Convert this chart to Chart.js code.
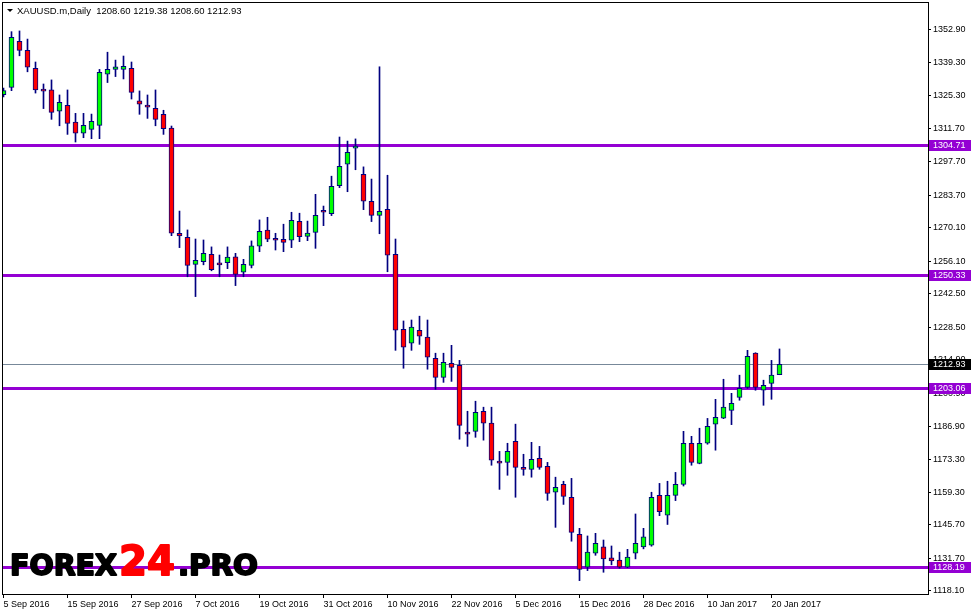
<!DOCTYPE html>
<html>
<head>
<meta charset="utf-8">
<title>XAUUSD.m Daily</title>
<script src="https://cdn.jsdelivr.net/npm/chart.js@4.4.1/dist/chart.umd.min.js"></script>
<style>
  html, body { margin: 0; padding: 0; background: #fff; }
  canvas { display: block; }
</style>
</head>
<body>
<canvas id="goldChart" width="971" height="615"></canvas>
<script>
// daily candles, 5 Sep 2016 .. 23 Jan 2017
const opens = [
  1325.8, 1328.9, 1348.2, 1344.4, 1336.9, 1327.7, 1327.8, 1318.9, 1321.4, 1314.3,
  1309.7, 1311.3, 1313.0, 1334.4, 1336.4, 1336.4, 1336.9, 1323.2, 1320.9, 1320.1,
  1317.6, 1311.8, 1267.8, 1266.1, 1254.8, 1255.9, 1259.0, 1254.8, 1255.5, 1257.9,
  1251.5, 1254.4, 1262.4, 1269.1, 1265.7, 1265.3, 1264.9, 1272.8, 1266.5, 1268.2,
  1277.4, 1276.0, 1287.7, 1296.7, 1303.4, 1292.5, 1281.2, 1275.3, 1277.8, 1259.0,
  1227.6, 1221.8, 1227.2, 1224.3, 1215.5, 1207.5, 1213.4, 1212.5, 1184.5, 1184.9,
  1193.3, 1188.3, 1172.4, 1171.9, 1180.7, 1169.8, 1169.0, 1173.6, 1170.2, 1159.4,
  1162.7, 1157.3, 1141.8, 1128.0, 1133.9, 1136.5, 1131.9, 1131.0, 1128.0, 1133.9,
  1136.5, 1137.2, 1158.1, 1149.8, 1158.1, 1162.7, 1179.9, 1171.5, 1179.9, 1187.9,
  1190.4, 1193.7, 1199.1, 1203.3, 1217.6, 1202.1, 1205.0, 1208.60
];
const highs = [
  1328.6, 1352.2, 1352.5, 1349.1, 1339.5, 1330.3, 1332.0, 1325.7, 1327.8, 1318.0,
  1318.0, 1317.7, 1336.4, 1343.6, 1340.3, 1342.0, 1339.5, 1327.4, 1325.7, 1327.8,
  1319.3, 1312.7, 1277.1, 1269.2, 1265.4, 1265.0, 1262.1, 1258.7, 1262.1, 1259.4,
  1256.9, 1264.6, 1273.4, 1274.5, 1267.8, 1271.6, 1276.6, 1276.2, 1272.9, 1284.1,
  1279.2, 1291.7, 1308.1, 1306.4, 1307.3, 1295.6, 1290.5, 1337.5, 1292.1, 1265.4,
  1231.1, 1231.5, 1233.1, 1231.5, 1217.6, 1217.6, 1220.9, 1214.6, 1193.3, 1197.5,
  1195.0, 1195.0, 1176.5, 1179.9, 1187.9, 1175.3, 1180.3, 1178.6, 1171.9, 1165.7,
  1164.0, 1165.2, 1144.3, 1141.1, 1142.2, 1139.4, 1136.9, 1134.3, 1135.5, 1150.3,
  1144.3, 1159.4, 1163.1, 1164.0, 1167.7, 1184.9, 1182.8, 1186.2, 1190.3, 1198.3,
  1206.7, 1200.8, 1208.4, 1218.8, 1217.8, 1206.3, 1214.6, 1219.38
];
const lows = [
  1324.9, 1327.5, 1342.1, 1335.4, 1326.5, 1320.0, 1315.5, 1312.8, 1309.2, 1306.0,
  1307.8, 1307.4, 1307.4, 1330.9, 1333.4, 1332.4, 1324.0, 1317.6, 1315.9, 1312.8,
  1309.2, 1266.8, 1261.8, 1249.6, 1241.3, 1254.6, 1252.1, 1249.6, 1253.0, 1245.9,
  1249.6, 1253.3, 1260.1, 1264.3, 1260.8, 1260.1, 1261.8, 1264.3, 1264.7, 1261.5,
  1271.0, 1275.2, 1286.9, 1285.2, 1294.4, 1277.7, 1272.7, 1267.6, 1251.7, 1218.8,
  1211.3, 1218.8, 1221.3, 1210.9, 1202.5, 1205.4, 1205.8, 1181.6, 1178.6, 1182.4,
  1181.2, 1170.7, 1160.6, 1166.5, 1157.3, 1166.5, 1165.7, 1169.0, 1156.0, 1144.7,
  1154.3, 1138.9, 1122.4, 1126.6, 1133.0, 1125.9, 1129.0, 1127.6, 1127.8, 1131.5,
  1135.7, 1136.8, 1149.6, 1145.9, 1155.9, 1162.0, 1170.7, 1171.3, 1179.5, 1177.0,
  1190.2, 1187.7, 1197.9, 1202.9, 1202.1, 1195.8, 1198.3, 1208.60
];
const closes = [
  1327.5, 1349.8, 1344.4, 1337.3, 1327.8, 1327.3, 1318.4, 1322.6, 1313.8, 1309.7,
  1313.0, 1314.7, 1335.2, 1336.4, 1337.5, 1337.7, 1326.8, 1321.8, 1320.6, 1315.5,
  1311.6, 1267.8, 1266.7, 1254.4, 1256.5, 1259.4, 1252.6, 1254.6, 1257.8, 1250.6,
  1254.8, 1262.5, 1268.6, 1265.3, 1264.9, 1264.0, 1273.2, 1266.4, 1267.9, 1275.3,
  1276.6, 1287.5, 1295.8, 1301.7, 1304.3, 1281.2, 1275.3, 1277.0, 1258.6, 1227.2,
  1220.1, 1228.5, 1224.7, 1215.9, 1207.5, 1213.8, 1211.7, 1187.4, 1183.7, 1192.9,
  1188.3, 1172.8, 1171.6, 1176.5, 1169.8, 1169.0, 1173.2, 1169.8, 1158.9, 1161.5,
  1157.7, 1142.6, 1127.1, 1134.3, 1138.0, 1131.5, 1130.6, 1128.0, 1132.3, 1138.0,
  1140.7, 1157.3, 1151.3, 1158.1, 1162.7, 1179.9, 1171.9, 1179.9, 1187.0, 1190.8,
  1195.0, 1196.6, 1202.9, 1216.3, 1203.3, 1204.2, 1208.4, 1212.93
];

// x axis: one label every 8 bars
const tickIdx = [0, 8, 16, 24, 32, 40, 48, 56, 64, 72, 80, 88, 96];
const tickLabels = ['5 Sep 2016', '15 Sep 2016', '27 Sep 2016', '7 Oct 2016', '19 Oct 2016',
  '31 Oct 2016', '10 Nov 2016', '22 Nov 2016', '5 Dec 2016', '15 Dec 2016',
  '28 Dec 2016', '10 Jan 2017', '20 Jan 2017'];

// price scale
const priceTicks = [1352.90, 1339.30, 1325.30, 1311.70, 1297.70, 1283.70, 1270.10, 1256.10,
  1242.50, 1228.50, 1214.90, 1200.90, 1186.90, 1173.30, 1159.30, 1145.70, 1131.70, 1118.10];
const levels = [1304.71, 1250.33, 1203.06, 1128.19];
const bid = 1212.93;

const navy = '#000080';
const purple = '#9400d3';
const uiFont = '"Liberation Sans", Arial, sans-serif';

Chart.defaults.font.family = uiFont;
Chart.defaults.font.size = 9;
Chart.defaults.color = '#000';

const wicks = highs.map((h, i) => ({ x: i, y: [lows[i], h] }));
const bodies = opens.map((o, i) => ({ x: i, y: [Math.min(o, closes[i]), Math.max(o, closes[i])] }));
const bodyColors = opens.map((o, i) => closes[i] >= o ? '#00ff00' : '#ff0000');

function fitText(ctx, text, x, baseline, width, font, color) {
    ctx.save();
    ctx.font = font;
    const w = ctx.measureText(text).width;
    ctx.translate(x, baseline);
    ctx.scale(width / w, 1);
    ctx.fillStyle = color;
    ctx.strokeStyle = color;
    ctx.lineWidth = 1.8;
    ctx.lineJoin = 'round';
    ctx.fillText(text, 0, 0);
    ctx.strokeText(text, 0, 0);
    ctx.restore();
}

function priceBox(ctx, y, value, bg) {
    const py = Math.round(y.getPixelForValue(value));
    ctx.fillStyle = bg;
    ctx.fillRect(929, py - 5, 42, 11);
    ctx.fillStyle = '#fff';
    ctx.font = '9px ' + uiFont;
    ctx.textBaseline = 'middle';
    ctx.textAlign = 'left';
    ctx.fillText(value.toFixed(2), 933, py + 0.5);
}

const overlays = {
    id: 'overlays',
    beforeDatasetsDraw(chart) {
        const { ctx, chartArea: a, scales: { y } } = chart;
        ctx.save();
        ctx.beginPath();
        ctx.rect(a.left, a.top, a.right - a.left, a.bottom - a.top);
        ctx.clip();

        // bid line
        const by = Math.round(y.getPixelForValue(bid)) + 0.5;
        ctx.strokeStyle = '#778899';
        ctx.lineWidth = 1;
        ctx.beginPath();
        ctx.moveTo(a.left, by);
        ctx.lineTo(a.right, by);
        ctx.stroke();

        // support / resistance
        ctx.strokeStyle = purple;
        ctx.lineWidth = 3;
        levels.forEach(v => {
            const py = Math.round(y.getPixelForValue(v)) + 0.5;
            ctx.beginPath();
            ctx.moveTo(a.left, py);
            ctx.lineTo(a.right, py);
            ctx.stroke();
        });
        ctx.restore();
    },
    afterDraw(chart) {
        const { ctx, chartArea: a, scales: { y } } = chart;
        ctx.save();

        // frame
        ctx.strokeStyle = '#000';
        ctx.lineWidth = 1;
        ctx.strokeRect(2.5, 2.5, a.right - 2, a.bottom - 2);

        // right axis markers
        levels.forEach(v => priceBox(ctx, y, v, purple));
        priceBox(ctx, y, bid, '#000');

        // title
        ctx.fillStyle = '#000';
        ctx.beginPath();
        ctx.moveTo(7, 9);
        ctx.lineTo(13, 9);
        ctx.lineTo(10, 12);
        ctx.closePath();
        ctx.fill();
        ctx.font = '9.5px ' + uiFont;
        ctx.textBaseline = 'alphabetic';
        ctx.textAlign = 'left';
        ctx.fillText('XAUUSD.m,Daily  ' + [opens[97], highs[97], lows[97], closes[97]].map(v => v.toFixed(2)).join(' '), 17, 14);

        // watermark
        ctx.textBaseline = 'alphabetic';
        fitText(ctx, 'FOREX', 10, 575, 107, 'bold 28px "DejaVu Sans"', '#000');
        fitText(ctx, '24', 119, 575, 56, 'bold 41px "DejaVu Sans"', '#ff0000');
        fitText(ctx, '.PRO', 178, 575, 80, 'bold 28px "DejaVu Sans"', '#000');

        ctx.restore();
    }
};

new Chart(document.getElementById('goldChart'), {
    type: 'bar',
    data: {
        datasets: [
            {
                data: wicks,
                backgroundColor: navy,
                borderWidth: 0,
                barThickness: 1,
                grouped: false,
                order: 2
            },
            {
                data: bodies,
                backgroundColor: bodyColors,
                borderColor: navy,
                borderWidth: 1,
                borderSkipped: false,
                barThickness: 5,
                minBarLength: 2,
                grouped: false,
                order: 1
            }
        ]
    },
    options: {
        responsive: false,
        animation: false,
        devicePixelRatio: 1,
        layout: { padding: { left: 3, top: 3, right: 0, bottom: 0 } },
        plugins: {
            legend: { display: false },
            tooltip: { enabled: false }
        },
        scales: {
            x: {
                type: 'linear',
                min: -0.0625,
                max: 115.5625,
                offset: false,
                border: { display: false },
                grid: { drawOnChartArea: false, drawTicks: true, tickLength: 4, color: '#000', offset: false },
                ticks: {
                    autoSkip: false,
                    maxRotation: 0,
                    align: 'start',
                    padding: 1,
                    callback: (v) => {
                        const k = tickIdx.indexOf(v);
                        return k >= 0 ? tickLabels[k] : '';
                    }
                },
                afterBuildTicks: (s) => { s.ticks = tickIdx.map(v => ({ value: v })); },
                afterFit: (s) => { s.height = 21; s.paddingLeft = 0; s.paddingRight = 0; }
            },
            y: {
                position: 'right',
                min: 1116.8,
                max: 1364.2,
                border: { display: false },
                grid: { drawOnChartArea: false, drawTicks: true, tickLength: 3, color: '#000' },
                ticks: {
                    padding: 2,
                    crossAlign: 'near',
                    callback: (v) => v.toFixed(2)
                },
                afterBuildTicks: (s) => { s.ticks = priceTicks.map(v => ({ value: v })); },
                afterFit: (s) => { s.width = 43; s.paddingTop = 0; s.paddingBottom = 0; }
            }
        }
    },
    plugins: [overlays]
});
</script>
</body>
</html>
